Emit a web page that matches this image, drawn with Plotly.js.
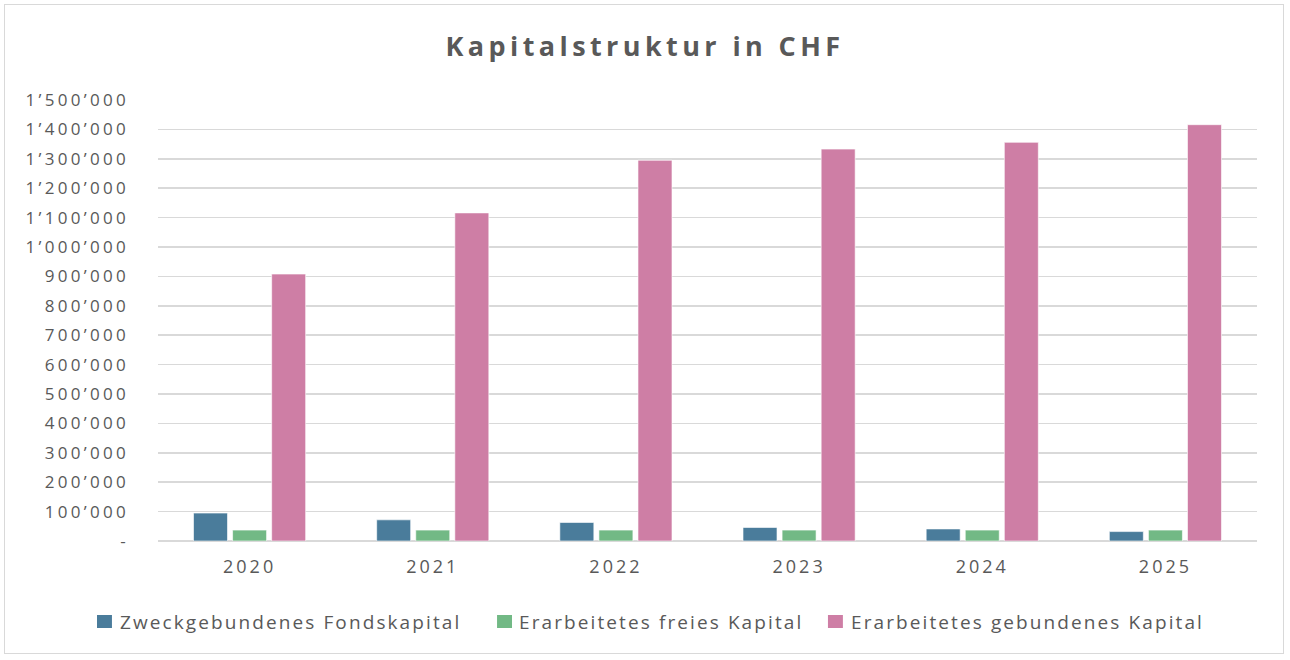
<!DOCTYPE html>
<html>
<head>
<meta charset="utf-8">
<script src="https://cdn.plot.ly/plotly-3.0.1.min.js"></script>
<style>
  html, body { margin: 0; padding: 0; background: #ffffff; }
  #frame { position: absolute; left: 4px; top: 4px; width: 1280px; height: 650px; border: 1.5px solid #d9d9d9; box-sizing: border-box; }
  #chart { position: absolute; left: 0; top: 0; width: 1290px; height: 660px; }
  .gtitle { letter-spacing: 4.4px; }
  .xtick text { letter-spacing: 3px; }
  .ytick text { letter-spacing: 3.3px; }
  .annotation-text { letter-spacing: 2.1px; }
</style>
</head>
<body>
<div id="frame"></div>
<div id="chart"></div>
<script>
const years = ["2020", "2021", "2022", "2023", "2024", "2025"];
const seriesNames = ["Zweckgebundenes Fondskapital", "Erarbeitetes freies Kapital", "Erarbeitetes gebundenes Kapital"];
const zweckgebunden = [95000, 72000, 63000, 46000, 41000, 32000];
const freiesKapital = [37000, 37000, 37000, 37000, 37000, 37000];
const gebundenesKapital = [908000, 1116000, 1295000, 1333000, 1356000, 1416000];
const tickValues = [0, 100000, 200000, 300000, 400000, 500000, 600000, 700000, 800000, 900000, 1000000, 1100000, 1200000, 1300000, 1400000, 1500000];
const tickLabels = ["-", "100’000", "200’000", "300’000", "400’000", "500’000", "600’000", "700’000", "800’000", "900’000", "1’000’000", "1’100’000", "1’200’000", "1’300’000", "1’400’000", "1’500’000"];
const colors = ["#4a7c9b", "#72b985", "#ce7ea5"];

const font = "'Open Sans', Lato, sans-serif";
const textColor = "#595959";
const seriesValues = [zweckgebunden, freiesKapital, gebundenesKapital];
const traces = seriesValues.map((vals, i) => ({
  type: "bar",
  name: seriesNames[i],
  x: years,
  y: vals,
  marker: { color: colors[i], line: { color: "rgba(255,255,255,0.6)", width: 1 } },
  hoverinfo: "x+y+name",
  showlegend: false
}));

// Legend drawn as a row of swatches + labels (placement in paper coordinates)
const legendSwatchX = [-0.0555, 0.3085, 0.6096];
const legendTextX = [-0.0364, 0.3267, 0.6288];
const swatchW = 0.0136;
const legendShapes = seriesNames.map((n, i) => ({
  type: "rect", xref: "paper", yref: "paper",
  x0: legendSwatchX[i], x1: legendSwatchX[i] + swatchW,
  y0: -0.1973, y1: -0.1678,
  fillcolor: colors[i], line: { width: 0 }
}));
const legendLabels = seriesNames.map((n, i) => ({
  text: n, xref: "paper", yref: "paper",
  x: legendTextX[i], y: -0.1835,
  xanchor: "left", yanchor: "middle",
  showarrow: false,
  font: { family: font, size: 19, color: textColor }
}));

const layout = {
  width: 1290,
  height: 660,
  autosize: false,
  paper_bgcolor: "rgba(0,0,0,0)",
  plot_bgcolor: "rgba(0,0,0,0)",
  margin: { l: 158, r: 33, t: 100, b: 119, autoexpand: false },
  barmode: "group",
  bargap: 0.36,
  bargroupgap: 0.13,
  title: {
    text: "<b>Kapitalstruktur in CHF</b>",
    font: { family: font, size: 27, color: textColor },
    x: 0.5, xanchor: "center",
    y: 0.929, yanchor: "middle"
  },
  xaxis: {
    type: "category",
    tickfont: { family: font, size: 18, color: textColor },
    showgrid: false,
    zeroline: false,
    showline: false,
    ticks: "",
    ticklabelstandoff: 13
  },
  yaxis: {
    range: [0, 1500000],
    tickvals: tickValues,
    ticktext: tickLabels,
    tickfont: { family: font, size: 17, color: textColor },
    showgrid: true,
    gridcolor: "#d9d9d9",
    gridwidth: 1.5,
    zeroline: true,
    zerolinecolor: "#d9d9d9",
    zerolinewidth: 1.5,
    showline: false,
    ticks: "",
    ticklabelstandoff: 28,
    fixedrange: true
  },
  shapes: legendShapes,
  annotations: legendLabels,
  showlegend: false
};

Plotly.newPlot("chart", traces, layout, { displayModeBar: false, staticPlot: true });
</script>
</body>
</html>
